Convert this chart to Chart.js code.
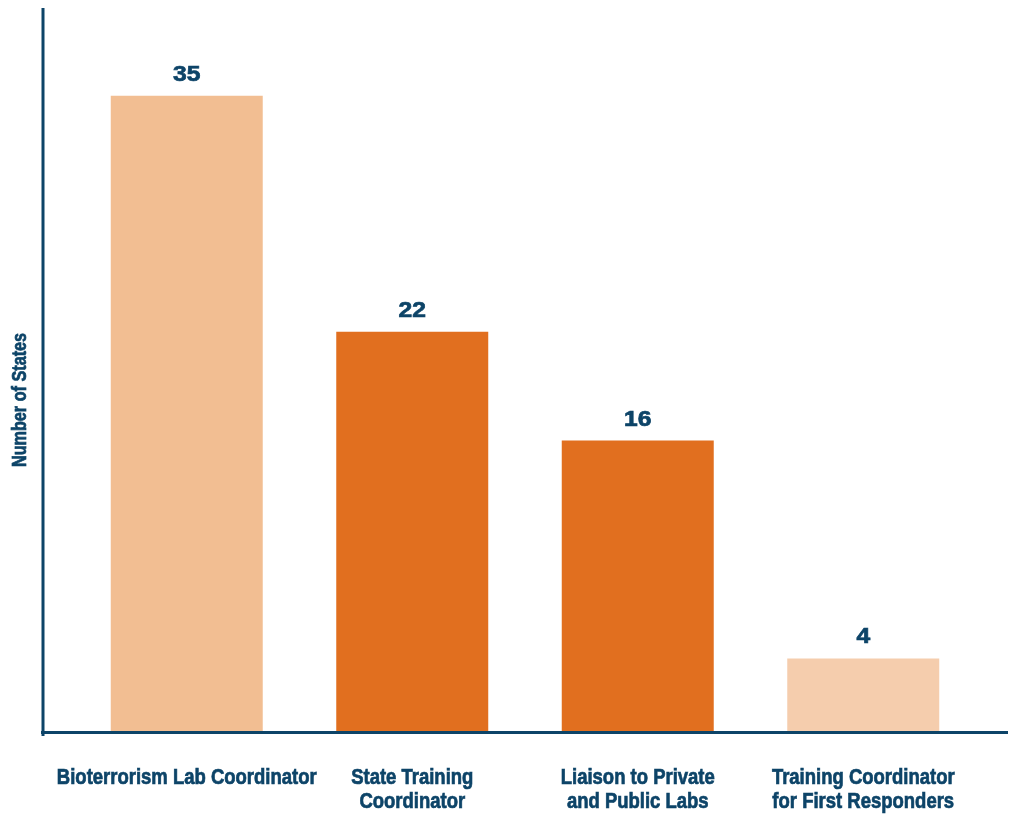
<!DOCTYPE html>
<html>
<head>
    <title>Lab Positions</title>
    <script src="https://cdn.jsdelivr.net/npm/chart.js@4.4.0/dist/chart.umd.min.js"></script>
    <style>
        html, body { margin: 0; padding: 0; background: #fff; }
        .wrap { width: 1010px; height: 814px; position: relative; }
    </style>
</head>
<body>
    <div class="wrap">
        <canvas id="chart" width="1010" height="814"></canvas>
    </div>
    <script>
        const categories = [
            ['Bioterrorism Lab Coordinator'],
            ['State Training', 'Coordinator'],
            ['Liaison to Private', 'and Public Labs'],
            ['Training Coordinator', 'for First Responders']
        ];
        const states = [35, 22, 16, 4];
        const barColors = ['#F2BE92', '#E16F1F', '#E16F1F', '#F5CDAD'];
        const yTitle = 'Number of States';

        const NAVY = '#0D4468';
        const SANS = '"Liberation Sans", Arial, sans-serif';

        // text squeezed sideways (and thickened a bit) to look like a heavy condensed face
        function squeezed(ctx, text, x, y, sx) {
            ctx.save();
            ctx.translate(x, y);
            ctx.scale(sx, 1);
            ctx.fillText(text, 0, 0);
            ctx.strokeText(text, 0, 0);
            ctx.restore();
        }

        // axis lines run past the plot area, plus value labels, category labels and the y title
        const decorations = {
            id: 'decorations',
            afterDatasetsDraw(chart) {
                const { ctx, chartArea: a } = chart;
                ctx.save();
                ctx.strokeStyle = NAVY;
                ctx.lineWidth = 3;
                ctx.beginPath();
                ctx.moveTo(a.left - 31, a.top + 3);
                ctx.lineTo(a.left - 31, a.bottom + 5);
                ctx.moveTo(a.left - 33, a.bottom + 1.5);
                ctx.lineTo(a.right + 32, a.bottom + 1.5);
                ctx.stroke();

                ctx.fillStyle = NAVY;
                ctx.lineWidth = 0.7;
                ctx.textAlign = 'center';
                ctx.textBaseline = 'alphabetic';
                const bars = chart.getDatasetMeta(0).data;

                ctx.font = 'bold 22px ' + SANS;
                bars.forEach((bar, i) => {
                    squeezed(ctx, String(states[i]), bar.x, bar.y - 15, 1.12);
                });

                bars.forEach((bar, i) => {
                    categories[i].forEach((line, j) => {
                        squeezed(ctx, line, bar.x, a.bottom + 53 + j * 24, 0.84);
                    });
                });

                ctx.translate(20, 400);
                ctx.rotate(-Math.PI / 2);
                ctx.textBaseline = 'middle';
                ctx.font = 'bold 20px ' + SANS;
                squeezed(ctx, yTitle, 0, 0, 0.81);
                ctx.restore();
            }
        };

        new Chart(document.getElementById('chart'), {
            type: 'bar',
            data: {
                labels: categories,
                datasets: [{
                    data: states,
                    backgroundColor: barColors,
                    borderWidth: 0,
                    categoryPercentage: 1,
                    barPercentage: 0.674
                }]
            },
            options: {
                responsive: false,
                animation: false,
                devicePixelRatio: 1,
                layout: { padding: { left: 74, right: 34, top: 5, bottom: 0 } },
                plugins: {
                    legend: { display: false },
                    tooltip: { enabled: false }
                },
                scales: {
                    x: {
                        grid: { display: false },
                        border: { display: false },
                        ticks: { display: false },
                        afterFit(scale) {
                            scale.height = 83;
                            scale.paddingLeft = 0;
                            scale.paddingRight = 0;
                        }
                    },
                    y: {
                        display: false,
                        min: 0,
                        max: 40
                    }
                }
            },
            plugins: [decorations]
        });
    </script>
</body>
</html>
